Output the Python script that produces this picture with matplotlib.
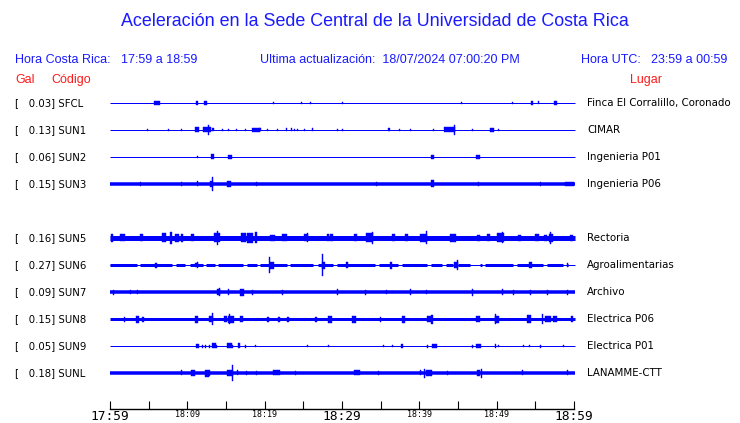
import matplotlib
matplotlib.use('Agg')
import matplotlib.pyplot as plt

# station table
codes = ['SFCL', 'SUN1', 'SUN2', 'SUN3', 'SUN5', 'SUN6', 'SUN7', 'SUN8', 'SUN9', 'SUNL']
gal = [0.03, 0.13, 0.06, 0.15, 0.16, 0.27, 0.09, 0.15, 0.05, 0.18]
places = ['Finca El Corralillo, Coronado', 'CIMAR', 'Ingenieria P01', 'Ingenieria P06',
          'Rectoria', 'Agroalimentarias', 'Archivo', 'Electrica P06', 'Electrica P01',
          'LANAMME-CTT']
slots = [0, 1, 2, 3, 5, 6, 7, 8, 9, 10]   # SUN4 slot is empty

# background noise half-amplitude of each trace
noise = [0.5, 0.5, 0.5, 1.75, 2.5, 0.5, 1.75, 1.5, 0.5, 1.75]

# bursts: (minute after 17:59, half amplitude, duration in px)
ev_sfcl = [(6.1, 2, 6), (11.25, 2, 2), (12.3, 2, 3), (21.1, 1, 1), (24.8, 1, 1), (25.9, 1, 1),
           (30.1, 1, 1), (45.4, 1, 1), (52.0, 1, 1), (54.6, 2, 2), (55.35, 1.5, 1), (57.6, 2, 3)]
ev_sun1 = [(4.9, 1, 1), (7.5, 1, 1), (9.3, 1, 1), (11.25, 2.5, 4), (12.5, 2.5, 8), (12.7, 5, 1),
           (13.3, 1.5, 2), (14.5, 1, 1), (15.3, 1, 1), (16.4, 1, 1), (17.5, 1, 1), (18.9, 2, 8),
           (19.4, 1.5, 2), (20.4, 1, 1), (21.6, 1, 1), (22.8, 1.5, 1), (23.5, 1.5, 1), (23.9, 1, 1),
           (24.3, 1, 1), (25.2, 1, 1), (26.2, 1.5, 1), (29.4, 1, 1), (30.1, 1, 1), (36.1, 1.5, 2),
           (37.4, 1, 1), (38.9, 1, 1), (41.8, 1, 1), (43.7, 2.5, 8), (44.4, 2.5, 3), (44.6, 5, 1),
           (46.9, 1, 1), (49.4, 2, 4), (50.3, 1, 1)]
ev_sun2 = [(11.25, 1, 1), (13.2, 2.5, 3), (15.5, 2, 4), (41.7, 2, 3), (47.6, 2, 4)]
ev_sun3 = [(3.9, 2.2, 1), (9.3, 2.2, 1), (11.25, 2.5, 1), (13.1, 2.6, 3), (13.2, 6.7, 1),
           (15.4, 3, 4), (19.0, 2.2, 1), (34.5, 2.2, 1), (41.7, 3.5, 3), (47.6, 2.4, 1),
           (55.7, 2.2, 1), (59.4, 2.3, 9)]
ev_sun5 = [(0.26, 4, 2), (1.6, 3.5, 5), (4.1, 3.5, 3), (7.0, 4.5, 4), (7.9, 6, 2), (8.7, 4, 4),
           (9.3, 4, 2), (10.7, 3.5, 3), (13.8, 4.5, 6), (13.85, 7, 1), (17.2, 4.5, 5), (18.1, 5, 6),
           (18.9, 5.5, 2), (21.0, 3, 5), (22.5, 3.5, 5), (25.3, 3.5, 4), (25.5, 4.5, 1), (28.2, 3.5, 2),
           (28.7, 3.5, 3), (31.7, 3.5, 3), (33.6, 4.5, 7), (33.9, 6, 1), (36.6, 3.5, 3), (38.4, 3.5, 3),
           (40.6, 4, 7), (40.9, 6.5, 1), (44.3, 4, 6), (47.7, 3, 3), (48.9, 3.5, 3), (50.5, 4.5, 7),
           (50.7, 5.5, 1), (53.0, 3, 3), (55.2, 3.5, 4), (56.3, 3, 3), (57.0, 4, 4), (57.0, 6, 1),
           (59.7, 3, 3)]
ev_sun6 = [(6.0, 2.5, 2), (11.2, 2, 3), (11.25, 3, 1), (20.6, 8, 1), (20.9, 3.5, 4), (27.5, 11, 1),
           (27.6, 3.5, 3), (30.6, 3, 2), (36.3, 3.5, 2), (44.8, 3, 4), (44.9, 5, 1), (54.4, 3, 3),
           (59.1, 2, 1)]
ev_sun7 = [(0.4, 2.5, 1), (2.6, 2, 1), (3.6, 2, 1), (14.0, 2.6, 3), (14.2, 4, 1), (15.3, 3, 1),
           (17.1, 3.5, 4), (18.4, 2.5, 1), (22.3, 2.5, 1), (29.4, 3, 1), (33.0, 2.5, 1), (35.8, 2, 1),
           (38.9, 3, 1), (40.9, 2, 1), (46.9, 3.5, 1), (50.7, 3, 1), (52.2, 2.5, 1), (54.4, 2.5, 1),
           (56.6, 2.5, 1), (59.1, 2.5, 1)]
ev_sun8 = [(1.9, 2.5, 1), (3.6, 3.5, 3), (4.3, 2.5, 2), (11.2, 3.5, 3), (13.0, 3, 4), (13.2, 6, 1),
           (14.9, 3, 3), (15.5, 5, 1), (15.6, 3.5, 6), (17.0, 3, 3), (20.4, 2.5, 2), (21.9, 2.5, 2),
           (23.0, 2.5, 2), (26.6, 2.5, 2), (28.4, 3.5, 4), (31.6, 3.5, 4), (35.0, 2.5, 1), (37.9, 3.5, 3),
           (41.3, 3, 4), (41.6, 4.5, 2), (47.6, 3, 4), (49.8, 5, 1), (50.1, 3.5, 4), (54.2, 4, 4),
           (55.9, 5, 1), (56.6, 3, 6), (57.5, 3, 4), (59.7, 3, 2)]
ev_sun9 = [(11.25, 2, 3), (11.9, 1.5, 1), (12.3, 1.5, 1), (12.9, 1.5, 1), (13.4, 2.5, 4), (13.8, 1.5, 1),
           (15.5, 2.5, 5), (15.9, 1.5, 1), (16.7, 2.5, 2), (17.5, 1.5, 1), (18.75, 1, 1), (25.5, 1, 1),
           (28.2, 1, 1), (35.4, 1, 1), (36.5, 1, 1), (37.8, 2, 2), (41.1, 1.5, 1), (41.9, 2, 5),
           (46.9, 1.5, 1), (47.7, 2, 5), (49.9, 2, 1), (50.3, 1, 1), (53.5, 1, 1), (54.2, 1, 1),
           (55.7, 1.5, 1), (58.6, 1, 1)]
ev_sunl = [(9.3, 2.5, 1), (10.7, 3, 4), (12.6, 3.5, 4), (12.9, 3, 1), (15.5, 3, 6), (15.9, 8, 1),
           (16.5, 2.5, 1), (17.7, 2, 1), (19.0, 2, 1), (21.5, 2.5, 7), (24.0, 2, 1), (32.0, 2.5, 6),
           (34.7, 2, 1), (40.1, 2.5, 1), (40.7, 4.5, 1), (41.2, 3, 6), (43.6, 2, 1), (47.6, 3, 3),
           (48.1, 4.5, 1), (53.4, 2.5, 1), (59.1, 2.5, 1)]
station_events = [ev_sfcl, ev_sun1, ev_sun2, ev_sun3, ev_sun5, ev_sun6, ev_sun7, ev_sun8, ev_sun9, ev_sunl]

# SUN6 alternates between quiet and noisy stretches (start, end minute)
sun6_noisy = [(0, 3.49), (3.88, 8.02), (8.53, 9.70), (10.35, 12.03), (12.41, 13.58), (13.97, 17.20),
              (17.72, 19.01), (19.40, 22.89), (23.28, 26.25), (26.90, 28.84), (29.35, 34.27),
              (34.79, 37.24), (37.76, 40.99), (41.51, 42.93), (43.45, 44.36), (45.00, 46.55),
              (47.85, 48.10), (48.49, 52.11), (52.63, 55.99), (56.51, 58.58), (59.10, 59.23)]

tick_min = list(range(0, 61, 5))
tick_lab = ['17:59', '', '18:09', '', '18:19', '', '18:29', '', '18:39', '', '18:49', '', '18:59']

BLUE = '#0000ff'
TXT = '#1a1aff'
RED = '#ff1a1a'
W, H = 740, 423
ROW = 27.0          # px between rows
PXMIN = 464 / 60.0  # px per minute


def fx(px):
    return px / W


def fy(py):
    return 1 - py / H


fig = plt.figure(figsize=(W / 100, H / 100), dpi=100)

head = ['Liberation Sans', 'DejaVu Sans']
fig.text(fx(375), fy(22), 'Aceleración en la Sede Central de la Universidad de Costa Rica',
         ha='center', va='center', fontsize=12.9, color=TXT, family=head)
fig.text(fx(15), fy(60), 'Hora Costa Rica:', ha='left', va='center', fontsize=9, color=TXT, family=head)
fig.text(fx(121), fy(60), '17:59 a 18:59', ha='left', va='center', fontsize=9, color=TXT, family=head)
fig.text(fx(260), fy(60), 'Ultima actualización:  18/07/2024 07:00:20 PM', ha='left', va='center',
         fontsize=9, color=TXT, family=head)
fig.text(fx(581), fy(60), 'Hora UTC:', ha='left', va='center', fontsize=9, color=TXT, family=head)
fig.text(fx(651), fy(60), '23:59 a 00:59', ha='left', va='center', fontsize=9, color=TXT, family=head)
fig.text(fx(15), fy(80), 'Gal', ha='left', va='center', fontsize=9, color=RED, family=head)
fig.text(fx(51), fy(80), 'Código', ha='left', va='center', fontsize=9, color=RED, family=head)
fig.text(fx(630), fy(80), 'Lugar', ha='left', va='center', fontsize=9, color=RED, family=head)

top_px, bot_px = 90, 409
ax = fig.add_axes([fx(110), fy(bot_px), 464 / W, (bot_px - top_px) / H])
ax.set_xlim(0, 60)
ax.set_ylim((bot_px - 103) / ROW, (top_px - 103) / ROW)

for i, slot in enumerate(slots):
    ypx = 103 + ROW * slot
    fig.text(fx(15), fy(ypx), '[   %.2f] %s' % (gal[i], codes[i]), ha='left', va='center',
             fontsize=7.3, color='black', family='DejaVu Sans')
    fig.text(fx(587), fy(ypx), places[i], ha='left', va='center',
             fontsize=7.4, color='black', family='DejaVu Sans')

    ax.hlines(slot, 0, 60.1, color=BLUE, lw=2 * noise[i] * 0.72, clip_on=False)
    if codes[i] == 'SUN6':
        for a, b in sun6_noisy:
            ax.hlines(slot, a, b, color=BLUE, lw=3 * 0.72)
    ev = station_events[i]
    t = [e[0] for e in ev]
    amp = [e[1] / ROW for e in ev]
    wid = [e[2] / PXMIN for e in ev]
    ax.bar(t, [2 * a for a in amp], bottom=[slot - a for a in amp], width=wid,
           color=BLUE, edgecolor=BLUE, linewidth=0.3)

for s in ['top', 'left', 'right']:
    ax.spines[s].set_visible(False)
ax.spines['bottom'].set_linewidth(1)
ax.set_yticks([])
ax.set_xticks(tick_min)
ax.set_xticklabels(tick_lab)
ax.tick_params(axis='x', direction='in', length=6, width=0.8, pad=0.5)
for lab in ax.get_xticklabels():
    if lab.get_text() in ('17:59', '18:29', '18:59'):
        lab.set_fontsize(9.3)
    else:
        lab.set_fontsize(6)
    lab.set_family('DejaVu Sans Mono')

fig.savefig('out.png', dpi=100)
